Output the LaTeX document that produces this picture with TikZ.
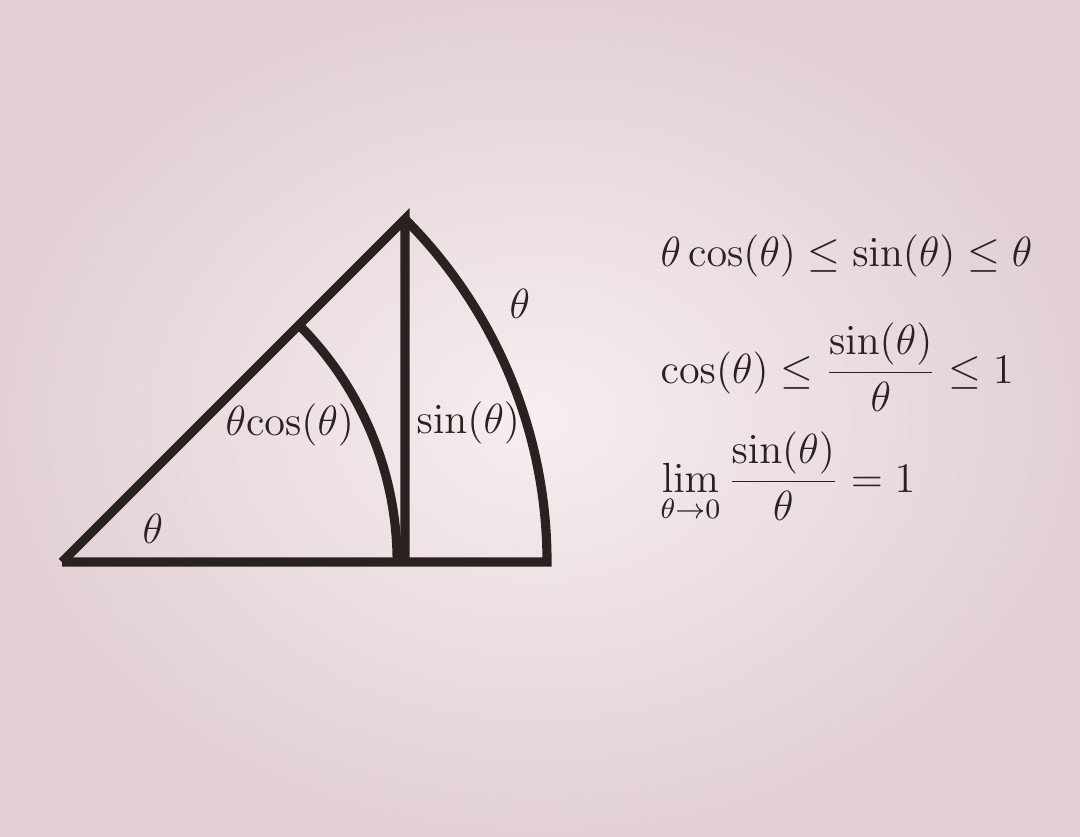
\documentclass[tikz,border=0pt]{standalone}
\usepackage{amsmath, amssymb}
\usetikzlibrary{positioning}
\definecolor{ink}{RGB}{42,33,33}
\definecolor{bgedge}{RGB}{226,208,212}
\definecolor{bgmid}{RGB}{246,238,240}

\begin{document}
\begin{tikzpicture}[
	x = 0.01cm, y = 0.01cm,
	edge/.style = {draw=ink,line width=2.6pt},
	lbl/.style = {anchor=base west,inner sep=0pt,text=ink,font=\fontsize{11.5}{14}\selectfont}
	]

	\shade[inner color=bgmid,outer color=bgedge] (0,0) rectangle (1080,836);
	\useasboundingbox (0,0) rectangle (1080,836);

	\coordinate (O) at (62,274);
	\coordinate (A) at (405,617);
	\coordinate (F) at (405,274);
	\coordinate (E) at (547,274);
	\coordinate (C) at (299,511);

	\draw[edge] (O) -- (A) -- (F);
	\draw[edge] (O) -- (E) arc (0:45:485);
	\draw[edge] (C) arc (45:0:335);

	\node[lbl] (angle) at (142,293) {$\theta$};
	\node[lbl] (adj) at (225,401) {$\theta\mathrm{cos}(\theta)$};
	\node[lbl] (opp) at (416,403) {$\sin(\theta)$};
	\node[lbl] (arclen) at (509,518) {$\theta$};

	\node[lbl] (eq1) at (660,569) {$\theta\cos(\theta) \le \sin(\theta) \le \theta$};
	\node[lbl] (eq2) at (660,453) {$\displaystyle \cos(\theta) \le \frac{\sin(\theta)}{\theta} \le 1$};
	\node[lbl] (eq3) at (660,344) {$\displaystyle \lim_{\theta\to 0} \frac{\sin(\theta)}{\theta} = 1$};

\end{tikzpicture}
\end{document}
